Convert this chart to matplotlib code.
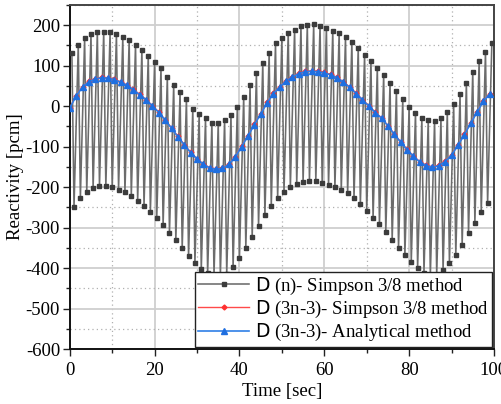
import numpy as np
import matplotlib
matplotlib.use("Agg")
import matplotlib.pyplot as plt
from matplotlib.ticker import MultipleLocator

plt.rcParams['font.family'] = ['Liberation Serif', 'DejaVu Sans']
plt.rcParams['mathtext.fontset'] = 'custom'
plt.rcParams['mathtext.sf'] = 'DejaVu Sans'
plt.rcParams['mathtext.rm'] = 'Liberation Serif'
plt.rcParams['axes.unicode_minus'] = False

# D(n) upper points (t = 0.5 + 1.5k) and lower points (t = 1.0 + 1.5k)
dn_top = [130, 152, 167, 177, 182, 184, 182, 177, 171, 163, 152, 138, 123, 109, 93, 72,
          52, 35, 17, -6, -20, -30, -41, -41, -35, -22, -3, 23, 52, 81, 107, 132, 155,
          169, 181, 189, 198, 200, 202, 198, 192, 186, 180, 170, 158, 143, 127, 111, 94,
          77, 58, 38, 17, -2, -16, -30, -35, -36, -30, -15, 5, 30, 58, 85, 112, 134, 155]
dn_bottom = [-249, -226, -212, -203, -198, -198, -201, -206, -213, -222, -234, -246, -261,
             -277, -294, -313, -331, -351, -371, -388, -403, -413, -417, -418, -414, -397,
             -374, -350, -323, -296, -269, -246, -227, -212, -200, -192, -187, -184, -184,
             -189, -195, -201, -207, -215, -228, -243, -260, -277, -292, -310, -330, -350,
             -368, -385, -400, -411, -418, -417, -406, -388, -367, -343, -314, -288, -262,
             -240]
# D(3n-3) series at t = 1.5k
analytical = [-5, 25, 47, 60, 67, 70, 69, 65, 59, 51, 40, 28, 15, 0, -16, -35, -55, -76,
              -96, -115, -131, -144, -153, -156, -154, -144, -126, -100, -74, -46, -20, 8,
              31, 47, 62, 72, 80, 85, 86, 85, 82, 77, 70, 59, 46, 31, 15, 0, -16, -30, -49,
              -70, -89, -108, -124, -138, -147, -151, -147, -137, -121, -97, -71, -43, -15,
              12, 30]
simpson3n = [-4, 26, 48, 61, 68, 71, 70, 66, 60, 52, 41, 29, 16, 1, -15, -34, -54, -75,
             -95, -114, -130, -143, -152, -155, -153, -143, -125, -99, -73, -45, -19, 9,
             32, 48, 63, 73, 81, 86, 87, 86, 83, 78, 71, 60, 47, 32, 16, 1, -15, -29, -48,
             -69, -88, -107, -123, -137, -146, -150, -146, -136, -120, -96, -70, -42, -14,
             13, 31]

labels = [r'$\mathsf{D}$ (n)- Simpson 3/8 method',
          r'$\mathsf{D}$ (3n-3)- Simpson 3/8 method',
          r'$\mathsf{D}$ (3n-3)- Analytical method']

t_top = 0.5 + 1.5 * np.arange(len(dn_top))
t_bot = 1.0 + 1.5 * np.arange(len(dn_bottom))
t_dn = np.empty(len(dn_top) + len(dn_bottom))
v_dn = np.empty_like(t_dn)
t_dn[0::2] = t_top
t_dn[1::2] = t_bot
v_dn[0::2] = dn_top
v_dn[1::2] = dn_bottom
t_a = 1.5 * np.arange(len(analytical))

FS = 13.5
fig = plt.figure(figsize=(5.02, 4.04), dpi=100)
ax = fig.add_axes([0.139, 0.136, 0.845, 0.852])

ax.plot(t_dn, v_dn, color='#6c6c6c', lw=1.15, marker='s', ms=3.4,
        mfc='#3c3c3c', mec='#3c3c3c', label=labels[0], zorder=3)
ax.plot(t_a, simpson3n, color='#ff4a4a', lw=1.0, marker='D', ms=2.5,
        mfc='#ff3030', mec='#ff3030', label=labels[1], zorder=4)
ax.plot(t_a, analytical, color='#2f7fe6', lw=1.2, marker='^', ms=4.5,
        mfc='#1f6fe0', mec='#1f6fe0', label=labels[2], zorder=5)

ax.set_xlim(0, 100)
ax.set_ylim(-600, 250)
ax.xaxis.set_major_locator(MultipleLocator(20))
ax.xaxis.set_minor_locator(MultipleLocator(10))
ax.yaxis.set_minor_locator(MultipleLocator(50))
ax.set_yticks([-600, -500, -400, -300, -200, -100, 0, 100, 200])

ax.grid(which='major', color='#cfcfcf', lw=1.3, ls='-', zorder=0)
ax.grid(which='minor', color='#b0b0b0', lw=0.9, ls=(0, (1, 2.5)), zorder=0)
ax.set_axisbelow(True)

ax.tick_params(which='both', direction='out', top=False, right=False, labelsize=FS,
               color='#222222')
ax.tick_params(axis='x', pad=4)
ax.tick_params(axis='y', pad=2)
ax.tick_params(which='major', length=5, width=1.0)
ax.tick_params(which='minor', length=3, width=1.0)
for s in ['left', 'bottom']:
    ax.spines[s].set_linewidth(1.4)
    ax.spines[s].set_color('#111111')
for s in ['top', 'right']:
    ax.spines[s].set_linewidth(1.4)
    ax.spines[s].set_color('#444444')

ax.set_xlabel('Time [sec]', fontsize=FS, labelpad=3)
ax.set_ylabel('Reactivity [pcm]', fontsize=FS, labelpad=1)

leg = ax.legend(loc='lower right', fontsize=FS, frameon=True, fancybox=False,
                edgecolor='#222222', framealpha=1, borderaxespad=0.1,
                handlelength=2.7, handletextpad=0.3, labelspacing=0.12,
                borderpad=0.2)
leg.get_frame().set_linewidth(1.0)
leg.set_zorder(6)

fig.savefig('out.png', dpi=100)
